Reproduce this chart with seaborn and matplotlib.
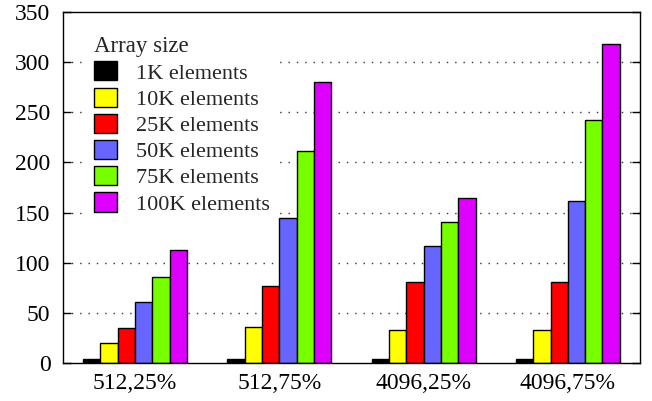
import numpy as np
import pandas as pd
import matplotlib
matplotlib.use("Agg")
import matplotlib.pyplot as plt
import seaborn as sns

# Benchmark results per configuration (block size, fill ratio)
configs = ["512,25%", "512,75%", "4096,25%", "4096,75%"]
sizes = ["1K elements", "10K elements", "25K elements",
         "50K elements", "75K elements", "100K elements"]
t_1k = [3.7, 3.7, 3.7, 3.7]
t_10k = [20, 36, 33, 33]
t_25k = [35, 77, 81, 81]
t_50k = [61, 145, 117, 162]
t_75k = [86, 211, 141, 242]
t_100k = [113, 280, 165, 318]
colors = ["#000000", "#ffff00", "#ff0000", "#6666ff", "#77ff00", "#dd00ff"]
y_ticks = [0, 50, 100, 150, 200, 250, 300, 350]

series = [t_1k, t_10k, t_25k, t_50k, t_75k, t_100k]
df = pd.DataFrame(
    [(c, s, v) for s, vals in zip(sizes, series) for c, v in zip(configs, vals)],
    columns=["config", "size", "value"],
)

sns.set_style("white")
plt.rcParams["font.family"] = ["Liberation Serif", "DejaVu Serif"]

fig = plt.figure(figsize=(6.52, 4.01), dpi=100)
ax = fig.add_axes([0.0966, 0.0948, 0.885, 0.875])

sns.barplot(data=df, x="config", y="value", hue="size", hue_order=sizes,
            order=configs, palette=colors, width=0.72, edgecolor="black",
            linewidth=1.0, saturation=1, ax=ax, zorder=2)

ax.set_xlim(-0.5, 3.5)
ax.set_ylim(0, 350)
ax.set_yticks(y_ticks)
ax.set_xlabel("")
ax.set_ylabel("")

for v in y_ticks[1:-1]:
    ax.axhline(v, color="#333333", lw=1.0, ls=(0, (1, 5)), zorder=0.5)

for sp in ax.spines.values():
    sp.set_color("black")
    sp.set_linewidth(1.0)

ax.tick_params(axis="y", direction="in", length=6, width=1, labelsize=17,
               left=True, right=True, pad=9, colors="black")
ax.tick_params(axis="x", length=0, labelsize=17, pad=7, colors="black")

leg = ax.legend(title="Array size", loc="upper left",
                bbox_to_anchor=(0.043, 0.95), borderaxespad=0,
                fontsize=16, title_fontsize=16.5, frameon=True, framealpha=1,
                edgecolor="white", fancybox=False, borderpad=0.3,
                labelspacing=0.18, handlelength=1.0, handleheight=0.95,
                handletextpad=0.85)
leg._legend_box.align = "left"
leg.set_zorder(3)

fig.savefig("out.png", dpi=100)
